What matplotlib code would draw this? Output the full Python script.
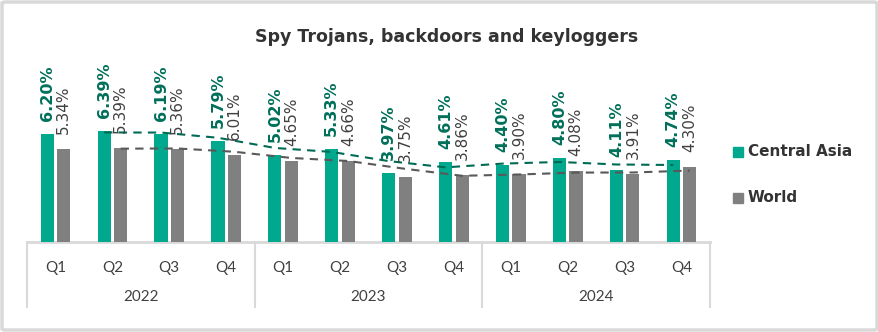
import matplotlib
matplotlib.use("Agg")
import matplotlib.pyplot as plt
from matplotlib.patches import FancyBboxPatch
import numpy as np

quarters = ["Q1", "Q2", "Q3", "Q4"] * 3
years = ["2022", "2023", "2024"]
central_asia = [6.20, 6.39, 6.19, 5.79, 5.02, 5.33, 3.97, 4.61, 4.40, 4.80, 4.11, 4.74]
world = [5.34, 5.39, 5.36, 5.01, 4.65, 4.66, 3.75, 3.86, 3.90, 4.08, 3.91, 4.30]
central_asia_labels = ["6.20%", "6.39%", "6.19%", "5.79%", "5.02%", "5.33%",
                       "3.97%", "4.61%", "4.40%", "4.80%", "4.11%", "4.74%"]
world_labels = ["5.34%", "5.39%", "5.36%", "6.01%", "4.65%", "4.66%",
                "3.75%", "3.86%", "3.90%", "4.08%", "3.91%", "4.30%"]
title = "Spy Trojans, backdoors and keyloggers"
series_names = ["Central Asia", "World"]

TEAL = "#00A88E"
GRAY = "#808080"
TEAL_TXT = "#00705A"
DARK = "#404040"
LINE_TEAL = "#006B55"
LINE_GRAY = "#595959"

plt.rcParams['font.family'] = ['DejaVu Sans']

W, H = 879, 332
fig = plt.figure(figsize=(W / 100, H / 100), dpi=100)

# border
fig.patches.append(FancyBboxPatch((2 / W, 2 / H), 1 - 4 / W, 1 - 4 / H,
                                  boxstyle="round,pad=0,rounding_size=0.004",
                                  transform=fig.transFigure, fill=False,
                                  edgecolor="#d9d9d9", linewidth=2.5))

left, right = 27, 710
base_y, top_y = 242, 50
ax = fig.add_axes([left / W, (H - base_y) / H, (right - left) / W, (base_y - top_y) / H])
ax.set_xlim(-0.5, 11.5)
px_per_unit = 17.4
ax.set_ylim(0, (base_y - top_y) / px_per_unit)
ax.axis("off")

x = np.arange(len(central_asia))
bw = 0.23
off = 0.145
ax.bar(x - off, central_asia, bw, color=TEAL, zorder=2)
ax.bar(x + off, world, bw, color=GRAY, zorder=2)

# 2-period moving average trendlines
ca = np.array(central_asia)
wo = np.array(world)
ma_ca = (ca[1:] + ca[:-1]) / 2
ma_wo = (wo[1:] + wo[:-1]) / 2
ax.plot(x[1:] - off, ma_ca, ls=(0, (4, 3)), color=LINE_TEAL, lw=1.5, zorder=3)
ax.plot(x[1:] + off, ma_wo, ls=(0, (4, 3)), color=LINE_GRAY, lw=1.5, zorder=3)

# value labels
gap_ca = 13 / px_per_unit
gap_wo = 15 / px_per_unit
for i in range(len(x)):
    ax.text(x[i] - off, central_asia[i] + gap_ca, central_asia_labels[i],
            rotation=90, ha="center", va="bottom", fontsize=11.5, fontweight="bold",
            color=TEAL_TXT, zorder=4, clip_on=False)
    ax.text(x[i] + off, world[i] + gap_wo, world_labels[i],
            rotation=90, ha="center", va="bottom", fontsize=11,
            color=DARK, zorder=4, clip_on=False)

# multi-level axis
tr = ax.get_xaxis_transform()
def ypix(py):
    return (base_y - py) / (base_y - top_y)

ax.plot([-0.5, 11.5], [0, 0], color="#d9d9d9", lw=2, transform=tr, clip_on=False, zorder=1)
for xv in [-0.5, 3.5, 7.5, 11.5]:
    ax.plot([xv, xv], [0, ypix(307)], color="#d9d9d9", lw=1.5, transform=tr, clip_on=False)
for i, q in enumerate(quarters):
    ax.text(i, ypix(268), q, ha="center", va="center", fontsize=11,
            family=['Lato', 'DejaVu Sans'], color=DARK, transform=tr)
for j, yr in enumerate(years):
    ax.text(4 * j + 1.5, ypix(297), yr, ha="center", va="center", fontsize=11,
            family=['Lato', 'DejaVu Sans'], color=DARK, transform=tr)

# title
fig.text(447 / W, 1 - 37 / H, title, ha="center", va="center", fontsize=12.5,
         fontweight="bold", color="#333333")

# legend
for k, (name, col) in enumerate(zip(series_names, [TEAL, GRAY])):
    yc = 152 + 46 * k
    fig.patches.append(plt.Rectangle((733 / W, 1 - (yc + 5) / H), 10 / W, 10 / H,
                                     transform=fig.transFigure, color=col))
    fig.text(748 / W, 1 - yc / H, name, ha="left", va="center", fontsize=11,
             fontweight="bold", color="#333333")

fig.savefig("out.png", dpi=100)
